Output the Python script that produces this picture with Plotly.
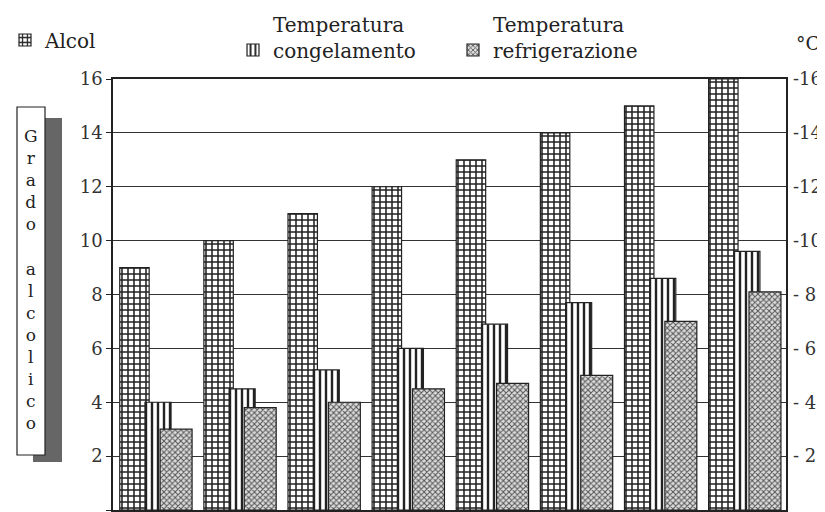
import plotly.graph_objects as go

categories = ["9", "10", "11", "12", "13", "14", "15", "16"]
alcol = [9, 10, 11, 12, 13, 14, 15, 16]
temp_congelamento = [4.0, 4.5, 5.2, 6.0, 6.9, 7.7, 8.6, 9.6]
temp_refrigerazione = [3.0, 3.8, 4.0, 4.5, 4.7, 5.0, 7.0, 8.1]
y_ticks = [0, 2, 4, 6, 8, 10, 12, 14, 16]
right_tick_labels = ["0", "- 2", "- 4", "- 6", "- 8", "-10", "-12", "-14", "-16"]

FONT = "DejaVu Serif"
OFF = 8  # page body margin offset
W, H = 825 - OFF, 512 - OFF
ML, MR, MT, MB = 113 - OFF, 39, 79 - OFF, 2
PW, PH = W - ML - MR, H - MT - MB


def sx(x):
    """screen x pixel -> paper coordinate"""
    return (x - OFF - ML) / PW


def sy(y):
    """screen y pixel -> paper coordinate"""
    return (H - MB - (y - OFF)) / PH


fig = go.Figure()
fig.add_trace(go.Bar(
    x=categories, y=alcol, name="Alcol", offset=-0.42, width=0.35,
    marker=dict(color="white", line=dict(color="#222", width=1.2),
                pattern=dict(shape="+", size=6, solidity=0.45, fgcolor="#222",
                             bgcolor="white", fillmode="replace")),
    legend="legend",
))
fig.add_trace(go.Bar(
    x=categories, y=temp_congelamento, name="Temperatura<br>congelamento",
    offset=-0.12, width=0.31,
    marker=dict(color="white", line=dict(color="#222", width=1.2),
                pattern=dict(shape="|", size=6, solidity=0.4, fgcolor="#222",
                             bgcolor="white", fillmode="replace")),
    legend="legend2",
))
fig.add_trace(go.Bar(
    x=categories, y=temp_refrigerazione, name="Temperatura<br>refrigerazione",
    offset=0.06, width=0.38,
    marker=dict(color="white", line=dict(color="#222", width=1.2),
                pattern=dict(shape="x", size=4, solidity=0.45, fgcolor="#555",
                             bgcolor="#ddd", fillmode="replace")),
    legend="legend3",
))
# invisible trace for right axis
fig.add_trace(go.Scatter(x=categories, y=alcol, yaxis="y2", mode="markers",
                         marker=dict(opacity=0), showlegend=False, hoverinfo="skip"))

legend_common = dict(orientation="h", font=dict(family=FONT, size=20, color="#222"),
                     bgcolor="rgba(0,0,0,0)", valign="bottom", yanchor="middle",
                     xanchor="left", itemwidth=30, tracegroupgap=0)
fig.update_layout(
    width=W, height=H,
    margin=dict(l=ML, r=MR, t=MT, b=MB, autoexpand=False),
    paper_bgcolor="white", plot_bgcolor="white",
    barmode="overlay",
    font=dict(family=FONT, size=18, color="#222"),
    legend=dict(**legend_common, x=sx(5), y=sy(40)),
    legend2=dict(**legend_common, x=sx(233), y=sy(37)),
    legend3=dict(**legend_common, x=sx(453), y=sy(37)),
    xaxis=dict(range=[-0.5, 7.5], showticklabels=False, tickson="boundaries",
               ticks="outside", ticklen=6, tickcolor="#222", showgrid=False,
               showline=True, linecolor="#222", linewidth=1.5, mirror=True,
               zeroline=False),
    yaxis=dict(range=[0, 16], tickvals=y_ticks, ticks="outside", ticklen=5,
               tickcolor="#222", showgrid=True, gridcolor="#333", gridwidth=1.2,
               showline=True, linecolor="#222", linewidth=1.5, mirror=True,
               zeroline=False, tickfont=dict(family=FONT, size=18, color="#333")),
    yaxis2=dict(range=[0, 16], overlaying="y", side="right", tickmode="array",
                tickvals=y_ticks, ticktext=right_tick_labels, showgrid=False,
                zeroline=False, showline=False, ticks="", ticklabelstandoff=6,
                tickfont=dict(family=FONT, size=18, color="#333")),
    shapes=[
        dict(type="rect", xref="paper", yref="paper", x0=sx(33), x1=sx(62),
             y0=sy(462), y1=sy(118), fillcolor="#666", line=dict(width=0), layer="above"),
        dict(type="rect", xref="paper", yref="paper", x0=sx(17), x1=sx(45),
             y0=sy(455), y1=sy(107), fillcolor="white", line=dict(color="#222", width=1.2),
             layer="above"),
    ],
    annotations=[
        dict(xref="paper", yref="paper", x=sx(31), y=sy(279),
             text="G<br>r<br>a<br>d<br>o<br> <br>a<br>l<br>c<br>o<br>l<br>i<br>c<br>o",
             showarrow=False, font=dict(family=FONT, size=17, color="#222"),
             xanchor="center", yanchor="middle", align="center"),
        dict(xref="paper", yref="paper", x=sx(808), y=sy(43), text="°C",
             showarrow=False, font=dict(family=FONT, size=19, color="#222"),
             xanchor="center", yanchor="middle"),
    ],
)

fig.write_html("out.html")
